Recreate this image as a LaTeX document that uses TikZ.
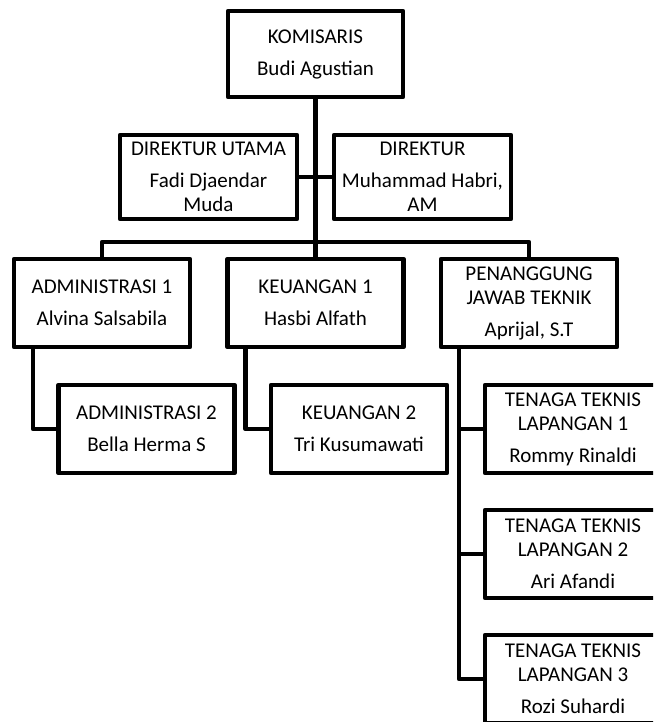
\documentclass[tikz,border=0pt]{standalone}
\usepackage{fontspec}
\setmainfont{Carlito}
\begin{document}
\begin{tikzpicture}[x=1pt,y=-1pt,
  orgbox/.style={draw=black, fill=white, line width=4.6pt, line join=round,
    inner sep=0pt, outer sep=0pt, align=center,
    minimum width=176pt, minimum height=88pt,
    font=\fontsize{21}{24}\selectfont},
  link/.style={draw=black, line width=4.6pt, line join=round}]
\useasboundingbox (0,0) rectangle (653,722);
\clip (0,0) rectangle (653,722);
% level 0
\node[orgbox, minimum width=175pt, minimum height=86pt] (kom) at (315.5,54) {KOMISARIS\\[8pt]Budi Agustian};
% level 1
\node[orgbox, minimum width=177pt, minimum height=84pt] (du) at (208.5,177) {DIREKTUR UTAMA\\[8pt]Fadi Djaendar\\Muda};
\node[orgbox, minimum width=177pt, minimum height=84pt] (dir) at (422.5,177) {DIREKTUR\\[8pt]Muhammad Habri,\\AM};
% level 2
\node[orgbox] (adm1) at (102,303) {ADMINISTRASI 1\\[8pt]Alvina Salsabila};
\node[orgbox] (keu1) at (315.5,303) {KEUANGAN 1\\[8pt]Hasbi Alfath};
\node[orgbox] (pjt) at (529,303) {PENANGGUNG\\JAWAB TEKNIK\\[8pt]Aprijal, S.T};
% level 3
\node[orgbox] (adm2) at (146.5,429) {ADMINISTRASI 2\\[8pt]Bella Herma S};
\node[orgbox] (keu2) at (359,429) {KEUANGAN 2\\[8pt]Tri Kusumawati};
\node[orgbox] (tt1) at (573,429) {TENAGA TEKNIS\\LAPANGAN 1\\[8pt]Rommy Rinaldi};
\node[orgbox] (tt2) at (573,554) {TENAGA TEKNIS\\LAPANGAN 2\\[8pt]Ari Afandi};
\node[orgbox] (tt3) at (573,679) {TENAGA TEKNIS\\LAPANGAN 3\\[8pt]Rozi Suhardi};
% connectors
\coordinate (bus) at (315.5,242);
\draw[link] (kom.south) -- (keu1.north);
\draw[link] (du.east) -- (dir.west);
\draw[link] (adm1.north) -- (adm1.north |- bus) -- (pjt.north |- bus) -- (pjt.north);
\draw[link] ([xshift=19pt]adm1.south west) |- (adm2.west);
\draw[link] ([xshift=18pt]keu1.south west) |- (keu2.west);
\coordinate (pv) at ([xshift=18pt]pjt.south west);
\draw[link] (pv) |- (tt3.west);
\draw[link] (pv |- tt1.west) -- (tt1.west);
\draw[link] (pv |- tt2.west) -- (tt2.west);
\end{tikzpicture}
\end{document}
